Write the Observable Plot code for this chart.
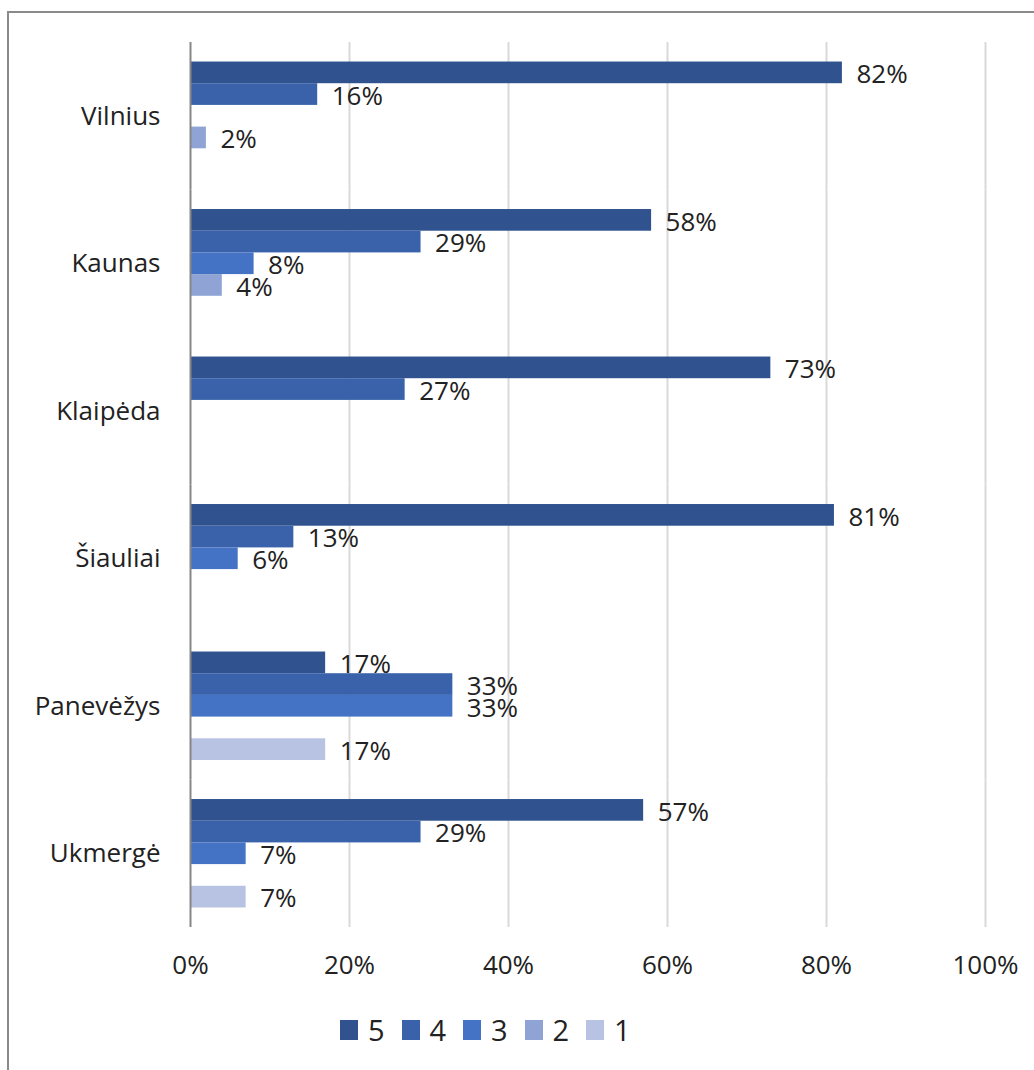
<!DOCTYPE html>
<html>
<head>
<meta charset="utf-8">
<script src="https://cdn.jsdelivr.net/npm/d3@7"></script>
<script src="https://cdn.jsdelivr.net/npm/@observablehq/plot@0.6"></script>
<style>
html, body { margin: 0; padding: 0; background: #fff; overflow: hidden; width: 1034px; height: 1070px; }
body { position: relative; font-family: "Open Sans", sans-serif; color: #222; }
#frame { position: absolute; left: 7px; top: 11px; width: 1100px; height: 1100px; border-top: 2px solid #8a8a8a; border-left: 2px solid #8a8a8a; pointer-events: none; }
#chart { position: absolute; left: 0; top: 0; }
#legend { position: absolute; top: 1013px; left: 340px; display: flex; align-items: center; font-size: 29px; line-height: 34px; }
#legend .item { display: flex; align-items: center; width: 61.5px; }
#legend .sw { width: 18px; height: 20px; margin-right: 10px; }
</style>
</head>
<body>
<div id="chart"></div>
<div id="legend"></div>
<div id="frame"></div>
<script>
const cities = ["Vilnius", "Kaunas", "Klaipėda", "Šiauliai", "Panevėžys", "Ukmergė"];
const series = ["5", "4", "3", "2", "1"];
const values5 = [82, 58, 73, 81, 17, 57];
const values4 = [16, 29, 27, 13, 33, 29];
const values3 = [0, 8, 0, 6, 33, 7];
const values2 = [2, 4, 0, 0, 0, 0];
const values1 = [0, 0, 0, 0, 17, 7];
const xTicks = [0, 20, 40, 60, 80, 100];
const colors = ["#30538F", "#3A62AB", "#4472C4", "#8FA4D4", "#B8C2E2"];

const seriesValues = [values5, values4, values3, values2, values1];
const data = [];
cities.forEach((city, i) => {
  series.forEach((s, j) => {
    data.push({ city, series: s, value: seriesValues[j][i] });
  });
});
const shown = data.filter(d => d.value > 0);

const chart = Plot.plot({
  width: 1034,
  height: 990,
  marginLeft: 190,
  marginRight: 49,
  marginTop: 42,
  marginBottom: 63,
  style: { fontFamily: "Open Sans, sans-serif", fontSize: "26px", color: "#222", background: "transparent" },
  x: { domain: [0, 100], ticks: xTicks, tickFormat: d => d + "%", label: null, tickSize: 0, tickPadding: 28 },
  y: { domain: series, axis: null, paddingInner: 0, paddingOuter: 0.9, round: false },
  fy: { domain: cities, padding: 0, label: null, tickSize: 0, tickPadding: 30, axis: "left", round: false },
  color: { domain: series, range: colors },
  marks: [
    Plot.ruleX(xTicks.slice(1), { stroke: "#d9d9d9", strokeWidth: 2 }),
    Plot.barX(shown, { x: "value", y: "series", fy: "city", fill: "series" }),
    Plot.ruleX([0], { stroke: "#868686", strokeWidth: 2 }),
    Plot.text(shown, { x: "value", y: "series", fy: "city", text: d => d.value + "%", textAnchor: "start", dx: 14, dy: 2, fill: "#222", fontSize: 26 })
  ]
});
document.getElementById("chart").appendChild(chart);

const legend = document.getElementById("legend");
series.forEach((s, j) => {
  const item = document.createElement("div");
  item.className = "item";
  const sw = document.createElement("div");
  sw.className = "sw";
  sw.style.background = colors[j];
  const lab = document.createElement("span");
  lab.textContent = s;
  item.appendChild(sw);
  item.appendChild(lab);
  legend.appendChild(item);
});
</script>
</body>
</html>
